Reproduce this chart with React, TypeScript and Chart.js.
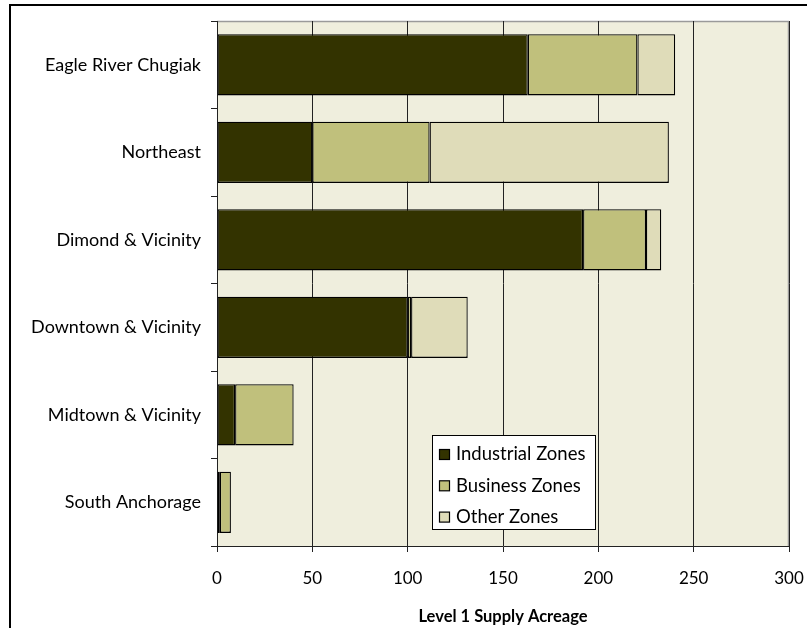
import React, { useEffect, useRef } from "react";
import { Chart, registerables } from "chart.js";

Chart.register(...registerables);

const categories = [
  "Eagle River Chugiak",
  "Northeast",
  "Dimond & Vicinity",
  "Downtown & Vicinity",
  "Midtown & Vicinity",
  "South Anchorage",
];

const industrialZones = [163, 50, 192, 100, 9.5, 1.5];
const businessZones = [57.5, 61.5, 33, 1.8, 30.7, 5.8];
const otherZones = [19.8, 125.5, 8, 29.7, 0, 0];

const seriesLabels = ["Industrial Zones", "Business Zones", "Other Zones"];
const seriesColors = ["#333300", "#C0C07C", "#DFDCB9"];

const xTicks = [0, 50, 100, 150, 200, 250, 300];
const xTitle = "Level 1 Supply Acreage";

const FONT = "Lato, 'Open Sans', sans-serif";

// Outer frame and plot-area backdrop, drawn before the datasets.
const backdrop = {
  id: "backdrop",
  beforeDraw(chart: any) {
    const { ctx, chartArea } = chart;
    ctx.save();
    ctx.fillStyle = "#ffffff";
    ctx.fillRect(0, 0, chart.width, chart.height);
    ctx.strokeStyle = "#000000";
    ctx.lineWidth = 2;
    ctx.strokeRect(10, 5, chart.width + 20, chart.height + 20);
    ctx.fillStyle = "#EFEEDD";
    ctx.fillRect(
      chartArea.left,
      chartArea.top,
      chartArea.right - chartArea.left,
      chartArea.bottom - chartArea.top
    );
    ctx.strokeStyle = "#9a9a9a";
    ctx.lineWidth = 1.5;
    ctx.beginPath();
    ctx.moveTo(chartArea.left, chartArea.top + 0.5);
    ctx.lineTo(chartArea.right - 0.5, chartArea.top + 0.5);
    ctx.lineTo(chartArea.right - 0.5, chartArea.bottom);
    ctx.stroke();
    ctx.restore();
  },
};

// Boxed legend placed inside the plot area, lower middle.
const boxedLegend = {
  id: "boxedLegend",
  afterDraw(chart: any) {
    const { ctx, chartArea } = chart;
    const x = chartArea.left + 215;
    const y = chartArea.top + 414;
    const w = 163;
    const h = 94;
    ctx.save();
    ctx.fillStyle = "#ffffff";
    ctx.fillRect(x, y, w, h);
    ctx.strokeStyle = "#000000";
    ctx.lineWidth = 1;
    ctx.strokeRect(x + 0.5, y + 0.5, w, h);
    ctx.font = `18.5px ${FONT}`;
    ctx.textBaseline = "middle";
    ctx.textAlign = "left";
    chart.data.datasets.forEach((ds: any, i: number) => {
      const cy = y + 19.5 + i * 31.3;
      ctx.fillStyle = ds.backgroundColor;
      ctx.fillRect(x + 7.5, cy - 5, 10, 10);
      ctx.strokeStyle = "#000000";
      ctx.lineWidth = 1.2;
      ctx.strokeRect(x + 7.5, cy - 5, 10, 10);
      ctx.fillStyle = "#000000";
      ctx.fillText(ds.label, x + 24, cy);
    });
    ctx.restore();
  },
};

export default function App() {
  const canvasRef = useRef<HTMLCanvasElement | null>(null);

  useEffect(() => {
    document.body.style.margin = "0";
    const canvas = canvasRef.current;
    if (!canvas) return;
    const values = [industrialZones, businessZones, otherZones];
    const chart = new Chart(canvas, {
      type: "bar",
      data: {
        labels: categories,
        datasets: values.map((data, i) => ({
          label: seriesLabels[i],
          data,
          backgroundColor: seriesColors[i],
          borderColor: "#000000",
          borderWidth: 1.3,
          borderSkipped: false,
          barPercentage: 0.7,
          categoryPercentage: 1,
        })),
      },
      options: {
        indexAxis: "y",
        animation: false,
        responsive: false,
        maintainAspectRatio: false,
        layout: { padding: { left: 0, top: 21, right: 18, bottom: 0 } },
        plugins: {
          legend: { display: false },
          tooltip: { enabled: false },
        },
        scales: {
          x: {
            stacked: true,
            min: 0,
            max: 300,
            afterBuildTicks(scale: any) {
              scale.ticks = xTicks.map((v) => ({ value: v }));
            },
            afterFit(scale: any) {
              scale.height = 82;
              scale.paddingLeft = 0;
              scale.paddingRight = 0;
            },
            grid: {
              color: "#222222",
              tickColor: "#222222",
              tickLength: 6,
              lineWidth: 1,
            },
            border: { display: true, color: "#222222", width: 1 },
            ticks: {
              color: "#000000",
              font: { family: FONT, size: 17 },
              padding: 16,
              maxRotation: 0,
            },
            title: {
              display: true,
              text: xTitle,
              color: "#000000",
              font: { family: FONT, size: 16.5, weight: "bold" },
              padding: { top: 0, bottom: 1 },
            },
          },
          y: {
            stacked: true,
            afterFit(scale: any) {
              scale.width = 217;
              scale.paddingTop = 0;
              scale.paddingBottom = 0;
            },
            grid: {
              drawOnChartArea: false,
              offset: true,
              tickLength: 6,
              tickColor: "#222222",
              color: "#222222",
            },
            border: { display: true, color: "#222222", width: 1 },
            ticks: {
              color: "#000000",
              font: { family: FONT, size: 18 },
              padding: 10,
            },
          },
        },
      },
      plugins: [backdrop, boxedLegend],
    } as any);
    return () => chart.destroy();
  }, []);

  return (
    <div style={{ position: "absolute", left: 0, top: 0, width: 807, height: 628 }}>
      <canvas ref={canvasRef} width={807} height={628} style={{ width: 807, height: 628 }} />
    </div>
  );
}
